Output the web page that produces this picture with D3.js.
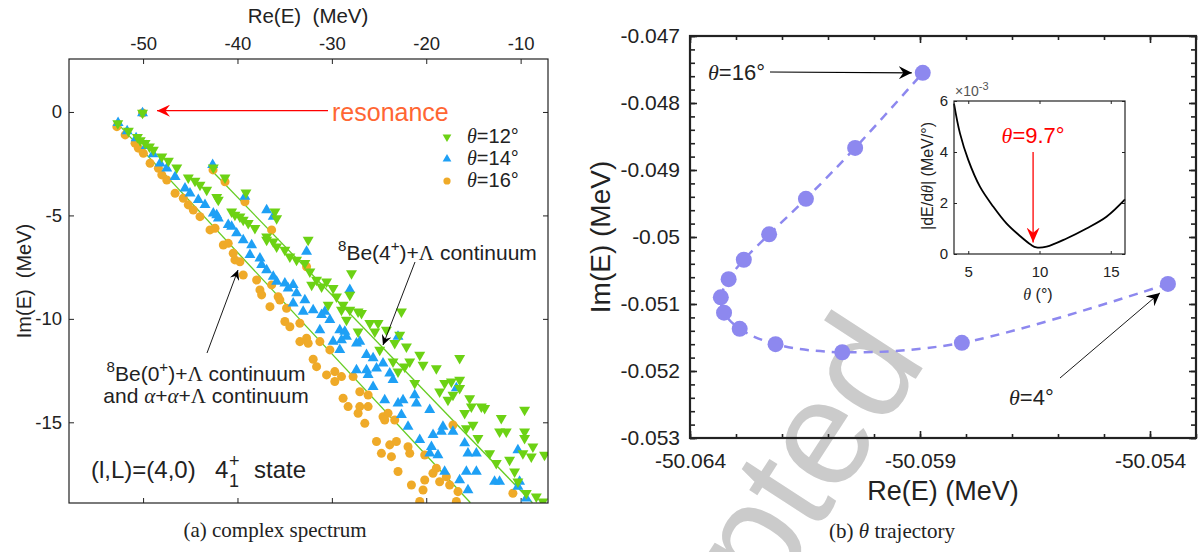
<!DOCTYPE html>
<html>
<head>
<meta charset="utf-8">
<script src="https://cdn.jsdelivr.net/npm/d3@7"></script>
<style>
body { margin: 0; background: #fff; }
svg { display: block; }
text { font-family: "Liberation Sans", Arial, sans-serif; fill: #222; }
</style>
</head>
<body>
<div id="chart"></div>
<script>
// ---- left panel: complex spectrum (Re E, Im E) in MeV
var resonance = [-50.06, -0.05];

var theta12 = [
  [-52.68,-0.55],[-51.56,-0.92],[-50.60,-1.22],[-50.30,-1.38],[-49.79,-1.51],[-49.33,-1.68],[-48.91,-1.84],
  [-48.02,-2.16],[-47.32,-2.37],[-46.43,-2.69],[-45.21,-3.18],[-44.50,-3.33],[-43.97,-3.53],[-43.26,-3.77],
  [-42.20,-4.12],[-42.03,-4.25],[-40.62,-4.82],[-40.27,-4.98],[-39.74,-5.06],[-39.39,-5.22],[-38.86,-5.38],
  [-38.15,-5.62],[-36.91,-6.03],[-36.91,-6.19],[-36.21,-6.27],[-35.85,-6.51],
  [-42.56,-2.69],[-41.32,-3.18],[-39.10,-3.90],[-36.03,-4.82],[-35.85,-5.14],
  [-34.98,-6.67],[-34.45,-6.99],[-33.74,-7.15],[-32.86,-7.31],[-32.33,-7.72],[-31.62,-8.12],[-31.09,-8.44],
  [-30.56,-8.20],[-29.87,-8.52],[-29.51,-8.93],[-28.81,-9.33],[-28.10,-9.57],[-27.92,-7.80],[-27.22,-9.65],
  [-26.86,-9.73],[-25.98,-10.21],[-25.45,-10.62],[-32.51,-6.19],[-28.10,-8.84],[-32.14,-8.36],[-22.63,-9.65],
  [-22.81,-10.78],[-20.69,-11.74],[-16.46,-11.90],[-30.39,-9.33],[-28.98,-9.57],[-28.45,-10.05],[-27.22,-10.62],
  [-25.10,-10.21],[-24.22,-10.54],[-24.93,-11.50],[-23.34,-11.18],[-22.10,-11.34],[-23.52,-12.07],[-22.99,-12.55],
  [-22.28,-12.31],[-21.75,-12.07],[-21.22,-13.11],[-20.34,-12.23],[-18.93,-12.39],[-18.58,-13.52],[-18.05,-13.11],
  [-17.70,-13.92],[-17.34,-13.03],[-16.46,-12.95],[-16.46,-13.35],[-17.17,-13.68],[-15.40,-13.84],[-15.22,-14.24],
  [-14.16,-14.24],[-13.81,-14.32],[-15.93,-14.56],[-15.75,-15.29],[-15.05,-15.13],[-14.52,-15.77],[-13.28,-16.50],
  [-12.05,-14.80],[-12.23,-15.45],[-11.52,-15.45],[-11.17,-16.82],[-9.58,-14.40],[-9.58,-15.45],[-9.58,-15.77],
  [-9.76,-16.50],[-8.70,-16.18],[-8.87,-16.66],[-7.47,-16.58],[-12.58,-16.98],[-10.64,-17.38],[-10.29,-17.87],
  [-9.40,-18.43],[-8.34,-18.59],[-7.64,-18.83]
];

var theta14 = [
  [-52.65,-0.53],[-51.69,-0.92],[-50.74,-1.26],[-49.68,-1.64],[-48.94,-2.03],[-48.20,-2.48],[-47.49,-2.72],
  [-46.61,-3.13],[-45.56,-3.69],[-45.03,-3.93],[-44.15,-4.25],[-43.44,-4.49],[-42.56,-4.90],[-42.20,-4.98],
  [-40.98,-5.46],[-40.62,-5.54],[-40.09,-5.86],[-39.39,-6.19],[-38.50,-6.43],[-42.63,-2.56],[-39.21,-4.09],
  [-36.21,-5.06],[-42.03,-5.14],[-38.68,-6.91],[-37.62,-7.07],[-37.44,-7.39],[-36.91,-7.64],[-36.21,-7.96],
  [-35.85,-8.20],[-34.98,-8.28],[-34.63,-8.52],[-34.10,-8.36],[-33.74,-8.76],[-32.68,-6.75],[-32.86,-9.09],
  [-31.98,-9.57],[-31.09,-9.81],[-30.74,-9.65],[-30.21,-10.05],[-29.16,-10.54],[-28.10,-8.60],[-28.45,-10.86],
  [-27.39,-11.18],[-36.91,-4.74],[-22.99,-10.86],[-34.10,-9.25],[-33.04,-9.65],[-31.27,-10.54],[-29.87,-11.10],
  [-28.98,-11.02],[-28.63,-10.62],[-27.04,-11.10],[-29.16,-11.50],[-26.33,-11.74],[-25.63,-11.90],[-24.58,-12.15],
  [-27.39,-12.47],[-26.33,-12.47],[-25.27,-12.39],[-26.16,-12.71],[-23.87,-12.63],[-23.52,-12.95],[-25.63,-13.28],
  [-24.40,-13.92],[-22.99,-14.08],[-22.46,-13.92],[-22.63,-14.64],[-21.93,-15.21],[-21.22,-13.68],[-21.04,-14.08],
  [-19.63,-14.40],[-20.69,-15.85],[-19.45,-16.18],[-19.28,-15.61],[-18.23,-15.21],[-18.40,-15.45],[-17.17,-15.45],
  [-16.81,-13.35],[-15.93,-16.01],[-15.58,-16.50],[-14.69,-16.50],[-19.63,-16.50],[-18.76,-16.58],[-18.05,-17.38],
  [-16.46,-17.79],[-15.75,-17.38],[-14.69,-17.38],[-15.58,-18.27],[-12.76,-17.87],[-12.23,-17.87],[-10.29,-16.34],
  [-10.11,-17.87],[-10.29,-18.11],[-9.40,-18.67]
];

var theta16 = [
  [-52.78,-0.71],[-51.90,-1.11],[-50.85,-1.51],[-50.50,-1.75],[-49.97,-2.00],[-49.26,-2.48],[-48.38,-2.72],
  [-48.02,-3.04],[-47.49,-3.29],[-46.61,-3.93],[-45.74,-4.17],[-45.21,-4.49],[-44.68,-4.74],[-43.97,-5.06],
  [-42.91,-5.70],[-42.38,-5.62],[-41.50,-6.43],[-40.98,-6.35],[-41.32,-3.37],[-39.21,-4.34],[-36.38,-5.70],
  [-42.59,-2.80],[-40.45,-6.83],[-40.27,-7.15],[-39.74,-7.24],[-39.39,-7.88],[-37.97,-8.12],[-37.62,-8.60],
  [-37.44,-8.84],[-36.38,-8.36],[-35.69,-8.93],[-35.51,-9.09],[-36.56,-9.41],[-34.80,-9.49],[-34.98,-10.13],
  [-34.45,-10.38],[-33.39,-10.21],[-32.68,-10.94],[-32.51,-11.18],[-33.39,-11.10],[-32.68,-7.48],
  [-31.27,-11.10],[-30.21,-11.50],[-31.98,-11.95],[-31.62,-12.31],[-30.56,-12.71],[-29.69,-12.55],[-29.69,-13.03],
  [-28.98,-12.79],[-27.75,-12.79],[-27.04,-13.52],[-26.16,-13.68],[-28.81,-13.84],[-28.28,-14.24],[-27.04,-14.24],
  [-26.16,-14.24],[-27.22,-14.56],[-26.51,-15.05],[-24.58,-14.73],[-24.05,-14.56],[-24.40,-14.89],[-23.34,-14.89],
  [-25.27,-15.93],[-23.87,-16.09],[-23.16,-15.93],[-24.75,-16.50],[-23.69,-16.66],[-21.93,-16.18],[-21.75,-16.50],
  [-20.16,-16.58],[-22.99,-17.38],[-19.29,-17.46],[-18.93,-17.22],[-18.58,-17.87],[-17.87,-17.63],[-21.57,-18.03],
  [-20.16,-17.79],[-20.34,-18.27],[-17.52,-18.03],[-20.69,-18.83],[-16.64,-18.35],[-16.81,-18.83],[-10.82,-18.43],
  [-17.17,-15.13]
];

// two continuum guide lines
var line0plus = [[-52.76, -0.53], [-15.32, -18.89]];
var line4plus = [[-42.58, -2.90], [-8.75, -18.89]];

var reTicksL = [-50, -40, -30, -20, -10];
var imTicksL = [0, -5, -10, -15];

// ---- right panel: theta trajectory of the resonance
var thetaDeg = [4, 5, 6, 7, 8, 9, 10, 11, 12, 13, 14, 15, 16];
var reTraj = [-50.05361, -50.05809, -50.06069, -50.06214, -50.06292, -50.06326, -50.06333,
              -50.06316, -50.06283, -50.06228, -50.06148, -50.06041, -50.05894];
var imTraj = [-0.05070, -0.05158, -0.05172, -0.05160, -0.05137, -0.05113, -0.05090,
              -0.05063, -0.05034, -0.04996, -0.04943, -0.04867, -0.04755];

var reTicksR = [-50.064, -50.059, -50.054];
var imTicksR = [-0.047, -0.048, -0.049, -0.05, -0.051, -0.052, -0.053];

// inset |dE/dtheta| (x 1e-3 MeV/deg)
var insetTheta = [4.0, 4.42, 5.0, 5.82, 6.75, 7.68, 8.62, 9.43, 9.78, 10.5, 11.9, 13.3, 14.7, 16.0];
var insetDeriv = [5.9, 4.73, 3.69, 2.64, 1.86, 1.2, 0.71, 0.35, 0.26, 0.29, 0.61, 1.0, 1.46, 2.14];
var insetXTicks = [5, 10, 15];
var insetYTicks = [0, 2, 4, 6];
var minTheta = 9.55;

var green = "#6cd214", blue = "#1ea0f5", orange = "#efaa28", purple = "#8d88ef";

var svg = d3.select("#chart").append("svg")
    .attr("width", 1202)
    .attr("height", 552);

svg.append("rect").attr("width", 1202).attr("height", 552).attr("fill", "#fff");

var defs = svg.append("defs");

function addHead(id, color, len, half) {
    defs.append("marker")
        .attr("id", id)
        .attr("markerUnits", "userSpaceOnUse")
        .attr("viewBox", [-len, -half, len + 1, 2 * half].join(" "))
        .attr("markerWidth", len + 1)
        .attr("markerHeight", 2 * half)
        .attr("refX", 0).attr("refY", 0)
        .attr("orient", "auto")
        .append("path")
        .attr("d", `M0,0 L${-len},${-half} L${-0.65 * len},0 L${-len},${half} Z`)
        .attr("fill", color);
}
addHead("redHead", "#ff0000", 13, 6);
addHead("blackSmall", "#000", 10, 5);
addHead("blackBig", "#000", 13, 6.5);
addHead("redInset", "#ff0000", 15, 6.5);

function arrow(g, x1, y1, x2, y2, color, w, head) {
    g.append("line")
        .attr("x1", x1).attr("y1", y1).attr("x2", x2).attr("y2", y2)
        .attr("stroke", color).attr("stroke-width", w)
        .attr("marker-end", `url(#${head})`);
}

function styleAxis(g, size) {
    g.select(".domain").remove();
    g.attr("font-family", null).attr("font-size", null);
    g.selectAll(".tick line").attr("stroke", "#222").attr("stroke-width", 1);
    g.selectAll(".tick text").attr("fill", "#222").style("font-size", size + "px");
}

// ================= LEFT PANEL =================
var xL = d3.scaleLinear().domain([-57.85, -7.1]).range([69, 548]);
var yL = d3.scaleLinear().domain([2.56, -18.9]).range([59, 503]);

defs.append("clipPath").attr("id", "clipL")
    .append("rect").attr("x", 69).attr("y", 59).attr("width", 479).attr("height", 444);

var left = svg.append("g");

left.append("g").attr("transform", "translate(0,59)")
    .call(d3.axisTop(xL).tickValues(reTicksL).tickSize(-5).tickPadding(9).tickFormat(d => d))
    .call(g => styleAxis(g, 18.5));
left.append("g").attr("transform", "translate(0,503)")
    .call(d3.axisBottom(xL).tickValues(reTicksL).tickSize(-5).tickFormat(""))
    .call(g => styleAxis(g, 18.5));
left.append("g").attr("transform", "translate(69,0)")
    .call(d3.axisLeft(yL).tickValues(imTicksL).tickSize(-5).tickPadding(7).tickFormat(d => d))
    .call(g => styleAxis(g, 18.5));
left.append("g").attr("transform", "translate(548,0)")
    .call(d3.axisRight(yL).tickValues(imTicksL).tickSize(-5).tickFormat(""))
    .call(g => styleAxis(g, 18.5));

var plotL = left.append("g").attr("clip-path", "url(#clipL)");

var lineGen = d3.line().x(d => xL(d[0])).y(d => yL(d[1]));
[line0plus, line4plus].forEach(function(l) {
    plotL.append("path").attr("d", lineGen(l))
        .attr("fill", "none").attr("stroke", "#66cc22").attr("stroke-width", 1.3);
});

var circleSym = d3.symbol().type(d3.symbolCircle).size(64)();
var triSym = d3.symbol().type(d3.symbolTriangle).size(52)();

function drawSeries(data, sym, flip, color) {
    plotL.append("g").selectAll("path")
        .data([resonance].concat(data))
        .enter()
        .append("path")
        .attr("d", sym)
        .attr("transform", d => `translate(${xL(d[0])},${yL(d[1])})` + (flip ? " rotate(180)" : ""))
        .attr("fill", color);
}
drawSeries(theta16, circleSym, false, orange);
drawSeries(theta14, triSym, false, blue);
drawSeries(theta12, triSym, true, green);

left.append("rect").attr("x", 69).attr("y", 59).attr("width", 479).attr("height", 444)
    .attr("fill", "none").attr("stroke", "#222").attr("stroke-width", 1.2);

// axis titles
left.append("text").attr("x", 308).attr("y", 23).attr("text-anchor", "middle")
    .style("font-size", "20.5px").text("Re(E)\u00a0\u00a0(MeV)");
left.append("text").attr("transform", "translate(31,281) rotate(-90)").attr("text-anchor", "middle")
    .style("font-size", "20px").text("Im(E)\u00a0\u00a0(MeV)");

// resonance label
left.append("text").attr("x", 332).attr("y", 121).style("font-size", "25px")
    .style("fill", "#ff6633").text("resonance");
arrow(left, 328, 110.7, 157, 110.7, "#ff0000", 1.3, "redHead");

// legend
var legend = [
    {label: "12°", color: green, flip: true, sym: triSym},
    {label: "14°", color: blue, flip: false, sym: triSym},
    {label: "16°", color: orange, flip: false, sym: circleSym}
];
legend.forEach(function(d, i) {
    var y = 137 + i * 22;
    left.append("path").attr("d", d.sym)
        .attr("transform", `translate(447,${y}) scale(0.8)` + (d.flip ? " rotate(180)" : ""))
        .attr("fill", d.color);
    var t = left.append("text").attr("x", 467).attr("y", y + 6).style("font-size", "20px");
    t.append("tspan").style("font-family", "'Liberation Serif', serif").style("font-style", "italic").text("θ");
    t.append("tspan").text("=" + d.label);
});

// continuum annotations
function superLabel(g, x, y, size, parts, anchor) {
    var t = g.append("text").attr("x", x).attr("y", y).style("font-size", size + "px");
    if (anchor) t.attr("text-anchor", anchor);
    var shift = 0;
    parts.forEach(function(p) {
        var s = t.append("tspan").text(p.t);
        var target = p.sup ? -size * 0.42 : 0;
        if (target !== shift) { s.attr("dy", target - shift); shift = target; }
        if (p.sup) s.style("font-size", (size * 0.72) + "px");
        if (p.serif) s.style("font-family", "'Liberation Serif', serif");
        if (p.italic) s.style("font-style", "italic");
    });
    return t;
}
superLabel(left, 338, 260, 21, [
    {t: "8", sup: true}, {t: "Be(4"}, {t: "+", sup: true}, {t: ")+"}, {t: "Λ", serif: true}, {t: " continuum"}
]);
arrow(left, 415, 262, 383, 345, "#000", 0.9, "blackSmall");

superLabel(left, 206, 381, 21, [
    {t: "8", sup: true}, {t: "Be(0"}, {t: "+", sup: true}, {t: ")+"}, {t: "Λ", serif: true}, {t: " continuum"}
], "middle");
superLabel(left, 206, 403, 21, [
    {t: "and "}, {t: "α", serif: true, italic: true}, {t: "+"}, {t: "α", serif: true, italic: true},
    {t: "+"}, {t: "Λ", serif: true}, {t: " continuum"}
], "middle");
arrow(left, 207, 353, 238, 270, "#000", 0.9, "blackSmall");

// state label
left.append("text").attr("x", 91).attr("y", 478).style("font-size", "24px").text("(l,L)=(4,0)");
left.append("text").attr("x", 215).attr("y", 478).style("font-size", "24px").text("4");
left.append("text").attr("x", 229).attr("y", 487).style("font-size", "18px").text("1");
left.append("text").attr("x", 229).attr("y", 467).style("font-size", "18px").text("+");
left.append("text").attr("x", 254).attr("y", 478).style("font-size", "24px").text("state");

left.append("text").attr("x", 275).attr("y", 537).attr("text-anchor", "middle")
    .style("font-family", "'Liberation Serif', serif").style("font-size", "21px")
    .text("(a) complex spectrum");

// ================= RIGHT PANEL =================
var right = svg.append("g");

// watermark behind the plot
right.append("text")
    .attr("transform", "translate(928,360) rotate(-57)")
    .attr("text-anchor", "end")
    .style("font-size", "150px").style("fill", "#cbcbcb")
    .text("Accepted");

var xR = d3.scaleLinear().domain([-50.064, -50.053]).range([690, 1196]);
var yR = d3.scaleLinear().domain([-0.047, -0.053]).range([36, 438]);

var reMinor = d3.range(0, 12).map(i => -50.064 + i * 0.001);
var imMinor = d3.range(0, 31).map(i => -0.053 + i * 0.0002);
var fmtR = v => String(+v.toFixed(4));

right.append("g").attr("transform", "translate(0,438)")
    .call(d3.axisBottom(xR).tickValues(reMinor).tickSize(-4).tickFormat(""))
    .call(g => styleAxis(g, 21));
right.append("g").attr("transform", "translate(0,438)")
    .call(d3.axisBottom(xR).tickValues(reTicksR).tickSize(-7).tickPadding(15).tickFormat(d => d.toFixed(3)))
    .call(g => styleAxis(g, 21));
right.append("g").attr("transform", "translate(0,36)")
    .call(d3.axisTop(xR).tickValues(reMinor).tickSize(-4).tickFormat(""))
    .call(g => styleAxis(g, 21));
right.append("g").attr("transform", "translate(0,36)")
    .call(d3.axisTop(xR).tickValues(reTicksR).tickSize(-7).tickFormat(""))
    .call(g => styleAxis(g, 21));
right.append("g").attr("transform", "translate(690,0)")
    .call(d3.axisLeft(yR).tickValues(imMinor).tickSize(-5).tickFormat(""))
    .call(g => styleAxis(g, 21));
right.append("g").attr("transform", "translate(690,0)")
    .call(d3.axisLeft(yR).tickValues(imTicksR).tickSize(-7).tickPadding(10).tickFormat(fmtR))
    .call(g => styleAxis(g, 21));
right.append("g").attr("transform", "translate(1196,0)")
    .call(d3.axisRight(yR).tickValues(imMinor).tickSize(-5).tickFormat(""))
    .call(g => styleAxis(g, 21));
right.append("g").attr("transform", "translate(1196,0)")
    .call(d3.axisRight(yR).tickValues(imTicksR).tickSize(-7).tickFormat(""))
    .call(g => styleAxis(g, 21));

right.selectAll(".tick line").attr("stroke-width", 1.6);

right.append("rect").attr("x", 690).attr("y", 36).attr("width", 506).attr("height", 402)
    .attr("fill", "none").attr("stroke", "#222").attr("stroke-width", 2.2);

var traj = thetaDeg.map((t, i) => ({theta: t, re: reTraj[i], im: imTraj[i]}));

right.append("path")
    .attr("d", d3.line().x(d => xR(d.re)).y(d => yR(d.im)).curve(d3.curveCatmullRom.alpha(0.5))(traj))
    .attr("fill", "none").attr("stroke", purple).attr("stroke-width", 2.5)
    .attr("stroke-dasharray", "9,7");

right.selectAll(".dot").data(traj).enter().append("circle")
    .attr("class", "dot")
    .attr("cx", d => xR(d.re)).attr("cy", d => yR(d.im)).attr("r", 8)
    .attr("fill", purple);

right.append("text").attr("transform", "translate(610,237) rotate(-90)").attr("text-anchor", "middle")
    .style("font-size", "28px").text("Im(E) (MeV)");
right.append("text").attr("x", 943).attr("y", 500).attr("text-anchor", "middle")
    .style("font-size", "27px").text("Re(E) (MeV)");

function thetaLabel(g, x, y, txt, size, color) {
    var t = g.append("text").attr("x", x).attr("y", y).style("font-size", size + "px");
    if (color) t.style("fill", color);
    t.append("tspan").style("font-family", "'Liberation Serif', serif").style("font-style", "italic").text("θ");
    t.append("tspan").text(txt);
    return t;
}
thetaLabel(right, 708, 80, "=16°", 22);
arrow(right, 770, 72, xR(reTraj[12]) - 11, yR(imTraj[12]), "#000", 1.1, "blackBig");
thetaLabel(right, 1009, 405, "=4°", 22);
arrow(right, 1060, 378, xR(reTraj[0]) - 8, yR(imTraj[0]) + 9, "#000", 0.9, "blackBig");

var cap = right.append("text").attr("x", 892).attr("y", 538).attr("text-anchor", "middle")
    .style("font-family", "'Liberation Serif', serif").style("font-size", "21px");
cap.append("tspan").text("(b) ");
cap.append("tspan").style("font-style", "italic").text("θ");
cap.append("tspan").text(" trajectory");

// ---- inset
var xI = d3.scaleLinear().domain([4, 16]).range([954, 1125]);
var yI = d3.scaleLinear().domain([0, 6]).range([254, 101]);
var inset = svg.append("g");

inset.append("g").attr("transform", "translate(0,254)")
    .call(d3.axisBottom(xI).tickValues(insetXTicks).tickSize(-3).tickPadding(12).tickFormat(d => d))
    .call(g => styleAxis(g, 15));
inset.append("g").attr("transform", "translate(0,101)")
    .call(d3.axisTop(xI).tickValues(insetXTicks).tickSize(-3).tickFormat(""))
    .call(g => styleAxis(g, 15));
inset.append("g").attr("transform", "translate(954,0)")
    .call(d3.axisLeft(yI).tickValues(insetYTicks).tickSize(-3).tickPadding(6).tickFormat(d => d))
    .call(g => styleAxis(g, 15));
inset.append("g").attr("transform", "translate(1125,0)")
    .call(d3.axisRight(yI).tickValues(insetYTicks).tickSize(-3).tickFormat(""))
    .call(g => styleAxis(g, 15));

var insetPts = insetTheta.map((t, i) => [t, insetDeriv[i]]);
inset.append("path")
    .attr("d", d3.line().x(d => xI(d[0])).y(d => yI(d[1])).curve(d3.curveCatmullRom.alpha(0.5))(insetPts))
    .attr("fill", "none").attr("stroke", "#000").attr("stroke-width", 1.8);

inset.append("rect").attr("x", 954).attr("y", 101).attr("width", 171).attr("height", 153)
    .attr("fill", "none").attr("stroke", "#222").attr("stroke-width", 1.2);

thetaLabel(inset, xI(minTheta), yI(4.35), "=9.7°", 22, "#ff0000").attr("text-anchor", "middle");
arrow(inset, xI(minTheta), yI(4), xI(minTheta), yI(0.45), "#ff0000", 1.3, "redInset");

var ex = inset.append("text").attr("x", 955).attr("y", 96).style("font-size", "14px").style("fill", "#555");
ex.append("tspan").text("×10");
ex.append("tspan").attr("dy", -6).style("font-size", "11px").text("-3");

var yl = inset.append("text").attr("transform", "translate(933,176) rotate(-90)").attr("text-anchor", "middle")
    .style("font-size", "16px");
yl.append("tspan").text("|dE/d");
yl.append("tspan").style("font-family", "'Liberation Serif', serif").style("font-style", "italic").text("θ");
yl.append("tspan").text("| (MeV/°)");

var xl = inset.append("text").attr("x", 1038).attr("y", 300).attr("text-anchor", "middle").style("font-size", "16px");
xl.append("tspan").style("font-family", "'Liberation Serif', serif").style("font-style", "italic").text("θ");
xl.append("tspan").text(" (°)");
</script>
</body>
</html>
